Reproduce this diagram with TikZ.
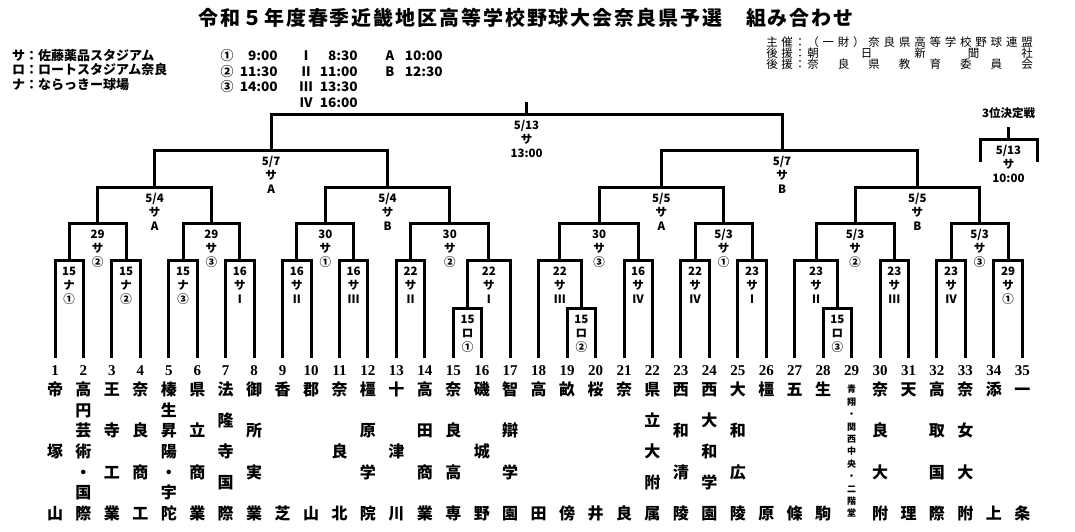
\documentclass[tikz,border=0pt]{standalone}
\usepackage{fontspec}
\setmainfont{Noto Sans CJK JP}
\newfontfamily\numfont{Liberation Serif}
\usetikzlibrary{calc}
\tikzset{
 br/.style={draw=black, line width=3pt},
 lb/.style={inner sep=0pt, anchor=base, font=\bfseries\fontsize{11.5}{12}\selectfont},
 tn/.style={inner sep=0pt, anchor=base, font=\bfseries\fontsize{16}{16}\selectfont},
 tns/.style={inner sep=0pt, anchor=base, font=\bfseries\fontsize{9}{9}\selectfont},
 num/.style={inner sep=0pt, anchor=base, font=\numfont\bfseries\fontsize{15}{15}\selectfont},
 ttl/.style={inner sep=0pt, anchor=base, font=\bfseries\fontsize{20}{20}\selectfont},
 spn/.style={inner sep=0pt, anchor=base, font=\fontsize{11.5}{12}\selectfont},
 lg/.style={inner sep=0pt, anchor=base west, font=\bfseries\fontsize{13}{13}\selectfont},
 lgc/.style={inner sep=0pt, anchor=base, font=\bfseries\fontsize{13}{13}\selectfont},
 lgt/.style={inner sep=0pt, anchor=base east, font=\bfseries\fontsize{13}{13}\selectfont},
}
\newcommand\mk[4]{%
 \path let \p1=(#2), \p2=(#3) in ({(\x1+\x2)/2},{-#4pt}) coordinate (#1);
 \draw[br] (#2) |- (#1) -| (#3);}
\newcommand\lbl[4]{%
 \node[lb] (#1l1) at ([yshift=-15.3pt]#1) {#2};
 \node[lb] (#1l2) at ([yshift=-29.3pt]#1) {#3};
 \node[lb] (#1l3) at ([yshift=-43.3pt]#1) {#4};}
\newcommand\team[3]{%
 \foreach \c [count=\k from 0] in {#3}
  \node[tn] (n#1-\k) at ({55+28.45*(#1-1)},{395.6+124*\k/(#2-1)}) {\c};}
\newcommand\tmtxt[1]{\scalebox{1.05}[1]{#1}}
\begin{document}
\begin{tikzpicture}[x=1pt,y=-1pt]
\useasboundingbox (0,0) rectangle (1075,531);
\fill[white] (0,0) rectangle (1075,531);
% title
\foreach \c [count=\i from 0] in {令,和,５,年,度,春,季,近,畿,地,区,高,等,学,校,野,球,大,会,奈,良,県,予,選}
  \node[ttl] (ti\i) at ({208.5+21.9*\i},25.6) {\c};
\foreach \c [count=\i from 25] in {組,み,合,わ,せ}
  \node[ttl] (ti\i) at ({208.5+21.9*\i},25.6) {\c};
% sponsors
\foreach \c/\x [count=\i] in {主/772,催/787,：/800}
  \node[spn] (sa\i) at (\x,46.4) {\c};
\foreach \c [count=\i from 0] in {（,一,財,）,奈,良,県,高,等,学,校,野,球,連,盟}
  \node[spn] (sb\i) at ({813+15.29*\i},46.4) {\c};
\foreach \c/\x [count=\i] in {後/772,援/787,：/800}
  \node[spn] (sc\i) at (\x,57.4) {\c};
\foreach \c [count=\i from 0] in {朝,日,新,聞,社}
  \node[spn] (sd\i) at ({813+53.5*\i},57.4) {\c};
\foreach \c/\x [count=\i] in {後/772,援/787,：/800}
  \node[spn] (se\i) at (\x,68.4) {\c};
\foreach \c [count=\i from 0] in {奈,良,県,教,育,委,員,会}
  \node[spn] (sf\i) at ({813+30.57*\i},68.4) {\c};
% legend
\node[lg] (lg1) at (12,60) {サ：佐藤薬品スタジアム};
\node[lg] (lg2) at (12,74.5) {ロ：ロートスタジアム奈良};
\node[lg] (lg3) at (12,89) {ナ：ならっきー球場};
\node[lgc] (ca1) at (227,60) {①};  \node[lgt] (cb1) at (278,60) {\tmtxt{9:00}};
\node[lgc] (ca2) at (227,76) {②};  \node[lgt] (cb2) at (278,76) {\tmtxt{11:30}};
\node[lgc] (ca3) at (227,91.5) {③}; \node[lgt] (cb3) at (278,91.5) {\tmtxt{14:00}};
\node[lgc] (ra1) at (306,60) {Ⅰ};  \node[lgt] (rb1) at (358,60) {\tmtxt{8:30}};
\node[lgc] (ra2) at (306,76) {Ⅱ};  \node[lgt] (rb2) at (358,76) {\tmtxt{11:00}};
\node[lgc] (ra3) at (306,91.5) {Ⅲ}; \node[lgt] (rb3) at (358,91.5) {\tmtxt{13:30}};
\node[lgc] (ra4) at (306,107) {Ⅳ}; \node[lgt] (rb4) at (358,107) {\tmtxt{16:00}};
\node[lgc] (aa1) at (390,60) {A};  \node[lgt] (ab1) at (443,60) {\tmtxt{10:00}};
\node[lgc] (aa2) at (390,76) {B};  \node[lgt] (ab2) at (443,76) {\tmtxt{12:30}};
% team bottoms and numbers
\foreach \i in {1,...,35} {
  \coordinate (t\i) at ({55+28.45*(\i-1)},358);
  \node[num] (k\i) at ({55+28.45*(\i-1)},375) {\i};
}
% lower boxes
\mk{lA}{t15}{t16}{308} \lbl{lA}{15}{ロ}{①}
\mk{lB}{t19}{t20}{308} \lbl{lB}{15}{ロ}{②}
\mk{lC}{t28}{t29}{308} \lbl{lC}{15}{ロ}{③}
% leaves
\mk{a1}{t1}{t2}{260}   \lbl{a1}{15}{ナ}{①}
\mk{a2}{t3}{t4}{260}   \lbl{a2}{15}{ナ}{②}
\mk{a3}{t5}{t6}{260}   \lbl{a3}{15}{ナ}{③}
\mk{a4}{t7}{t8}{260}   \lbl{a4}{16}{サ}{Ⅰ}
\mk{a5}{t9}{t10}{260}  \lbl{a5}{16}{サ}{Ⅱ}
\mk{a6}{t11}{t12}{260} \lbl{a6}{16}{サ}{Ⅲ}
\mk{a7}{t13}{t14}{260} \lbl{a7}{22}{サ}{Ⅱ}
\mk{a8}{lA}{t17}{260}  \lbl{a8}{22}{サ}{Ⅰ}
\mk{a9}{t18}{lB}{260}  \lbl{a9}{22}{サ}{Ⅲ}
\mk{a10}{t21}{t22}{260} \lbl{a10}{16}{サ}{Ⅳ}
\mk{a11}{t23}{t24}{260} \lbl{a11}{22}{サ}{Ⅳ}
\mk{a12}{t25}{t26}{260} \lbl{a12}{23}{サ}{Ⅰ}
\mk{a13}{t27}{lC}{260}  \lbl{a13}{23}{サ}{Ⅱ}
\mk{a14}{t30}{t31}{260} \lbl{a14}{23}{サ}{Ⅲ}
\mk{a15}{t32}{t33}{260} \lbl{a15}{23}{サ}{Ⅳ}
\mk{a16}{t34}{t35}{260} \lbl{a16}{29}{サ}{①}
% second round
\mk{b1}{a1}{a2}{223}   \lbl{b1}{29}{サ}{②}
\mk{b2}{a3}{a4}{223}   \lbl{b2}{29}{サ}{③}
\mk{b3}{a5}{a6}{223}   \lbl{b3}{30}{サ}{①}
\mk{b4}{a7}{a8}{223}   \lbl{b4}{30}{サ}{②}
\mk{b5}{a9}{a10}{223}  \lbl{b5}{30}{サ}{③}
\mk{b6}{a11}{a12}{223} \lbl{b6}{5/3}{サ}{①}
\mk{b7}{a13}{a14}{223} \lbl{b7}{5/3}{サ}{②}
\mk{b8}{a15}{a16}{223} \lbl{b8}{5/3}{サ}{③}
% quarter finals
\mk{c1}{b1}{b2}{187} \lbl{c1}{5/4}{サ}{A}
\mk{c2}{b3}{b4}{187} \lbl{c2}{5/4}{サ}{B}
\mk{c3}{b5}{b6}{187} \lbl{c3}{5/5}{サ}{A}
\mk{c4}{b7}{b8}{187} \lbl{c4}{5/5}{サ}{B}
% semi finals
\mk{d1}{c1}{c2}{150} \lbl{d1}{5/7}{サ}{A}
\mk{d2}{c3}{c4}{150}
\coordinate (d2u) at (782,150);
\lbl{d2u}{5/7}{サ}{B}
% final
\mk{e}{d1}{d2u}{114} \lbl{e}{5/13}{サ}{13:00}
\draw[br] (e) -- ([yshift=12pt]e);
% third place
\coordinate (q) at (1008.5,139);
\coordinate (qL) at (980,162);
\coordinate (qR) at (1037,162);
\coordinate (qT) at (1008.5,127);
\draw[br] (qL) |- (q) -| (qR);
\draw[br] (q) -- (qT);
\node[lb] (q3) at (1008.5,117.5) {3位決定戦};
\lbl{q}{5/13}{サ}{10:00}
% team names
\team{1}{3}{帝,塚,山}
\team{2}{7}{高,円,芸,術,・,国,際}
\team{3}{4}{王,寺,工,業}
\team{4}{4}{奈,良,商,工}
\team{5}{7}{榛,生,昇,陽,・,宇,陀}
\team{6}{4}{県,立,商,業}
\team{7}{5}{法,隆,寺,国,際}
\team{8}{4}{御,所,実,業}
\team{9}{2}{香,芝}
\team{10}{2}{郡,山}
\team{11}{3}{奈,良,北}
\team{12}{4}{橿,原,学,院}
\team{13}{3}{十,津,川}
\team{14}{4}{高,田,商,業}
\team{15}{4}{奈,良,高,専}
\team{16}{3}{磯,城,野}
\team{17}{4}{智,辯,学,園}
\team{18}{2}{高,田}
\team{19}{2}{畝,傍}
\team{20}{2}{桜,井}
\team{21}{2}{奈,良}
\team{22}{5}{県,立,大,附,属}
\team{23}{4}{西,和,清,陵}
\team{24}{5}{西,大,和,学,園}
\team{25}{4}{大,和,広,陵}
\team{26}{2}{橿,原}
\team{27}{2}{五,條}
\team{28}{2}{生,駒}
\foreach \c [count=\k from 0] in {青,翔,・,関,西,中,央,・,二,階,堂}
  \node[tns] (n29-\k) at ({55+28.45*28},{392.9+12.4*\k}) {\c};
\team{30}{4}{奈,良,大,附}
\team{31}{2}{天,理}
\team{32}{4}{高,取,国,際}
\team{33}{4}{奈,女,大,附}
\team{34}{2}{添,上}
\team{35}{2}{一,条}
\end{tikzpicture}
\end{document}
